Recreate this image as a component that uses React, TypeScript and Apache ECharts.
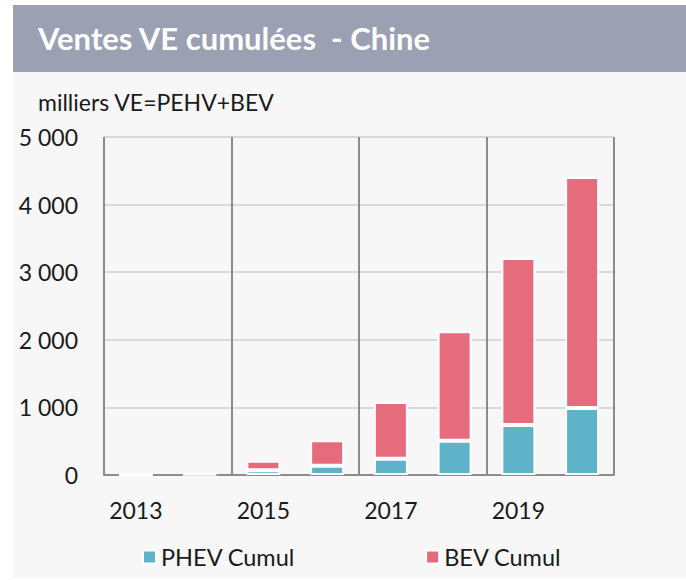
import React, { useEffect, useRef } from "react";
import * as echarts from "echarts";

const years = ["2013", "2014", "2015", "2016", "2017", "2018", "2019", "2020"];
const phevCumul = [3, 6, 70, 135, 240, 505, 740, 990];
const bevCumul = [8, 22, 140, 380, 840, 1620, 2470, 3420];
const yTickLabels = ["0", "1 000", "2 000", "3 000", "4 000", "5 000"];
const titleText = "Ventes VE cumulées  - Chine";
const subtitleText = "milliers VE=PEHV+BEV";
const seriesNames = ["PHEV Cumul", "BEV Cumul"];

const FONT = "Lato, 'Open Sans', sans-serif";

export default function App() {
  const ref = useRef<HTMLDivElement>(null);
  useEffect(() => {
    document.body.style.margin = "0";
    const chart = echarts.init(ref.current!, undefined, { renderer: "svg" });
    chart.setOption({
      animation: false,
      backgroundColor: "transparent",
      textStyle: { fontFamily: FONT },
      title: [
        {
          text: titleText,
          left: 33,
          top: 17,
          textStyle: { color: "#ffffff", fontSize: 31, fontWeight: "bold", fontFamily: FONT },
        },
        {
          text: subtitleText,
          left: 33,
          top: 85,
          textStyle: { color: "#1a1a1a", fontSize: 23, fontWeight: "normal", fontFamily: FONT },
        },
      ],
      legend: {
        left: 137,
        top: 540,
        icon: "rect",
        itemWidth: 13,
        itemHeight: 13,
        itemGap: 130,
        textStyle: { fontSize: 23.5, color: "#1a1a1a", fontFamily: FONT },
        data: seriesNames,
      },
      grid: { left: 104, right: 72, top: 137, bottom: 105, containLabel: false },
      xAxis: {
        type: "category",
        data: years,
        axisTick: { show: false },
        axisLine: { lineStyle: { color: "#8c8c8c", width: 2 } },
        axisLabel: { interval: 1, margin: 23, fontSize: 23, color: "#1a1a1a", fontFamily: FONT },
        splitLine: { show: true, interval: 1, lineStyle: { color: "#8c8c8c", width: 2 } },
      },
      yAxis: {
        type: "value",
        min: 0,
        max: 5000,
        interval: 1000,
        axisLine: { show: false },
        axisTick: { show: false },
        axisLabel: {
          margin: 26,
          fontSize: 23,
          color: "#1a1a1a",
          fontFamily: FONT,
          formatter: (v: number) => yTickLabels[Math.round(v / 1000)],
        },
        splitLine: { lineStyle: { color: "#d9d9d9", width: 2 } },
      },
      series: [
        {
          name: seriesNames[0],
          type: "bar",
          stack: "total",
          data: phevCumul,
          barWidth: 34,
          itemStyle: { color: "#5eb3c9", borderColor: "#ffffff", borderWidth: 2 },
        },
        {
          name: seriesNames[1],
          type: "bar",
          stack: "total",
          data: bevCumul,
          barWidth: 34,
          itemStyle: { color: "#e66c7d", borderColor: "#ffffff", borderWidth: 2 },
        },
      ],
    });
    return () => chart.dispose();
  }, []);
  return (
    <div
      style={{
        width: 686,
        height: 580,
        background:
          "linear-gradient(#9ba0b2,#9ba0b2) 13px 5px / 673px 67px no-repeat, linear-gradient(#f7f7f7,#f7f7f7) 13px 72px / 673px 506px no-repeat, #ffffff",
      }}
    >
      <div ref={ref} style={{ width: 686, height: 580 }} />
    </div>
  );
}
